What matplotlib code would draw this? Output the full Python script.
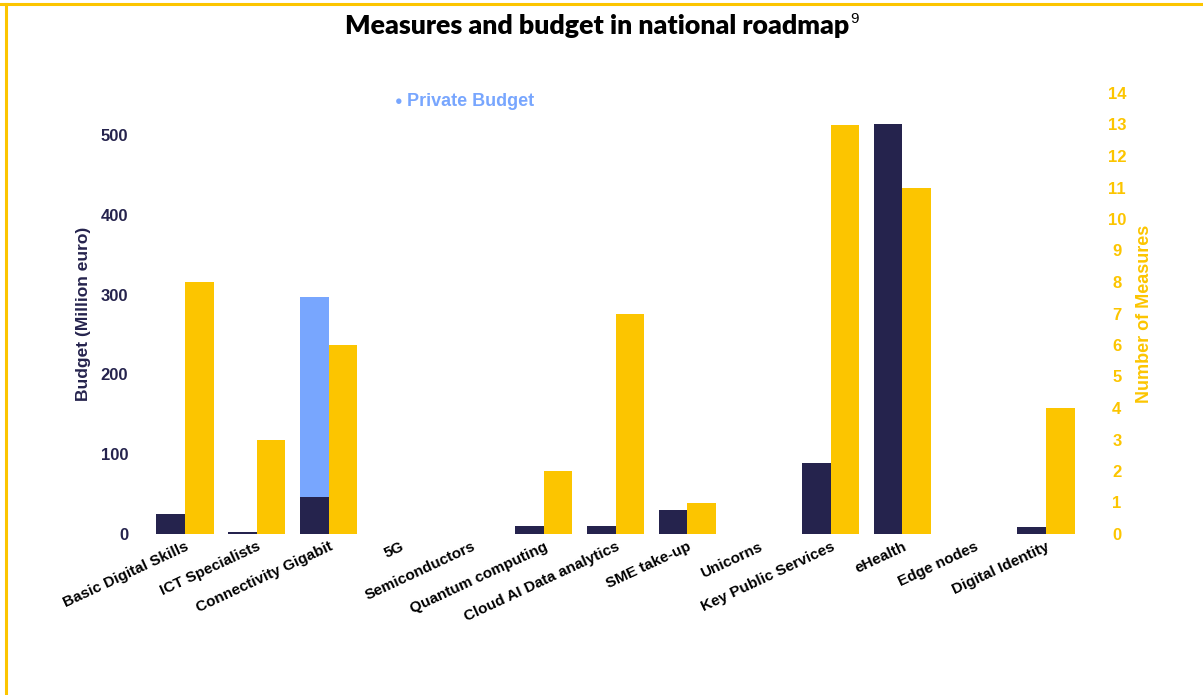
import matplotlib
matplotlib.use("Agg")
import matplotlib.pyplot as plt
from matplotlib.lines import Line2D
import numpy as np

categories = ["Basic Digital Skills", "ICT Specialists", "Connectivity Gigabit", "5G",
              "Semiconductors", "Quantum computing", "Cloud AI Data analytics",
              "SME take-up", "Unicorns", "Key Public Services", "eHealth",
              "Edge nodes", "Digital Identity"]
public_budget = [25, 2, 46, 0, 0, 10, 10, 30, 0, 89, 514, 0, 9]
private_budget = [0, 0, 251, 0, 0, 0, 0, 0, 0, 0, 0, 0, 0]
measures = [8, 3, 6, 0, 0, 2, 7, 1, 0, 13, 11, 0, 4]

NAVY = "#25234D"
YELLOW = "#FCC500"
BLUE = "#78A6FE"

plt.rcParams['font.family'] = ['Liberation Sans', 'DejaVu Sans']

fig = plt.figure(figsize=(12.03, 6.95), dpi=100)
ax = fig.add_axes([142/1203, 1 - 534/695, (1089-142)/1203, (534-93)/695])
ax2 = ax.twinx()

x = np.arange(len(categories))
w = 0.4
ax.bar(x - w/2, public_budget, width=w, color=NAVY, zorder=2)
ax.bar(x - w/2, private_budget, width=w, bottom=public_budget, color=BLUE, zorder=2)
ax2.bar(x + w/2, measures, width=w, color=YELLOW, zorder=2)

ax.set_xlim(-0.6, len(categories) - 0.4)
ax.set_ylim(0, 552.6)
ax2.set_ylim(0, 14)

ax.set_yticks([0, 100, 200, 300, 400, 500])
ax2.set_yticks(range(0, 15))

for a in (ax, ax2):
    for s in a.spines.values():
        s.set_visible(False)
    a.tick_params(length=0)

ax.tick_params(axis='y', pad=10, labelsize=12, labelcolor=NAVY)
for t in ax.get_yticklabels():
    t.set_fontweight('bold')
ax2.tick_params(axis='y', pad=20, labelsize=12, labelcolor=YELLOW)
for t in ax2.get_yticklabels():
    t.set_fontweight('bold')
    t.set_horizontalalignment('center')

ax.set_xticks(x)
ax.set_xticklabels(categories, rotation=25, ha='right', rotation_mode='anchor',
                   fontsize=11, fontweight='bold', color='black')
ax.tick_params(axis='x', pad=4)

ax.set_ylabel("Budget (Million euro)", fontsize=12.5, fontweight='bold', color=NAVY, labelpad=7)
ax2.set_ylabel("Number of Measures", fontsize=13, fontweight='bold', color=YELLOW, labelpad=7)

fig.text(345/1203, 1 - 26/695, "Measures and budget in national roadmap", ha='left', va='center',
         fontsize=19.3, fontweight='heavy', color='black', family=['Lato', 'DejaVu Sans'])
fig.text(850/1203, 1 - 19/695, "9", ha='left', va='center',
         fontsize=11, fontweight='normal', color='black', family=['Liberation Sans', 'DejaVu Sans'])

fig.text(395/1203, 1 - 102/695, "\u25CF", ha='left', va='center', fontsize=9, color=BLUE)
fig.text(407/1203, 1 - 102/695, "Private Budget", ha='left', va='center', fontsize=13,
         fontweight='bold', color=BLUE)

fig.add_artist(Line2D([0, 1], [1 - 4/695, 1 - 4/695], color=YELLOW, lw=2.2, transform=fig.transFigure))
fig.add_artist(Line2D([6/1203, 6/1203], [0, 1 - 4/695], color=YELLOW, lw=2.2, transform=fig.transFigure))

fig.savefig("out.png", dpi=100)
